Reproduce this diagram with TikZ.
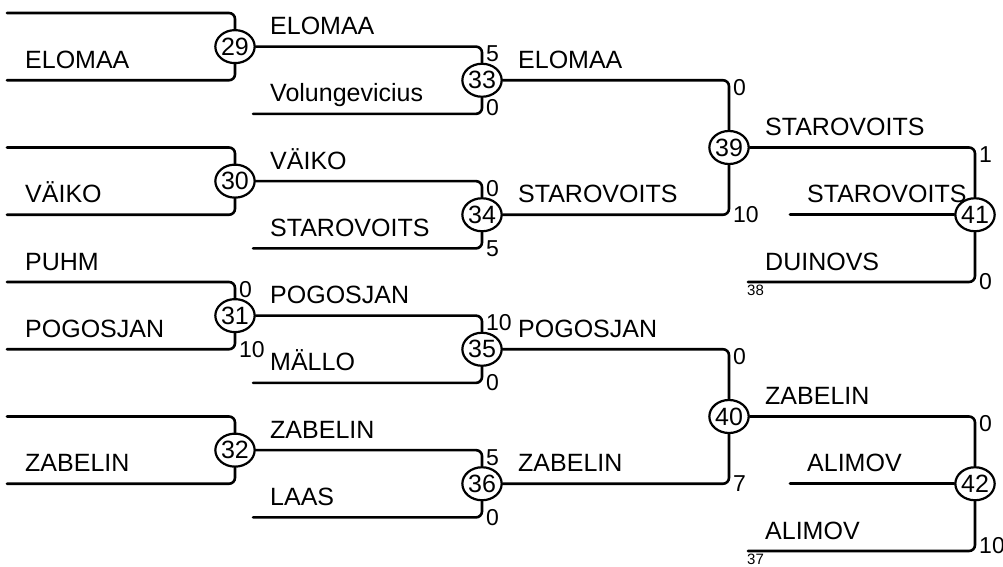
\documentclass[tikz,border=0pt]{standalone}
\usepackage{fontspec}
\setmainfont{Liberation Sans}
\usetikzlibrary{shapes.geometric}
\begin{document}
\begin{tikzpicture}[x=1pt,y=-1pt,
  conn/.style={line width=2.6pt,rounded corners=6pt,line cap=round},
  game/.style={ellipse,draw,line width=2.2pt,fill=white,inner sep=0pt,
    minimum width=37pt,minimum height=33pt,font=\fontsize{25}{30}\selectfont},
  pname/.style={anchor=base west,inner sep=0pt,font=\fontsize{25}{30}\selectfont},
  sctop/.style={anchor=north west,inner sep=0pt,font=\fontsize{23}{27}\selectfont},
  scbot/.style={anchor=west,inner sep=0pt,font=\fontsize{23}{27}\selectfont},
  smalllab/.style={anchor=north west,inner sep=0pt,font=\fontsize{15}{18}\selectfont}]
\useasboundingbox (0,0) rectangle (1003,567);
% rows: y_k = 13 + 33.625 k
% game nodes
\node[game] (c29) at (235,46.625) {29};
\node[game] (c30) at (235,181.125) {30};
\node[game] (c31) at (235,315.625) {31};
\node[game] (c32) at (235,450.125) {32};
\node[game] (c33) at (482,80.25) {33};
\node[game] (c34) at (482,214.75) {34};
\node[game] (c35) at (482,349.25) {35};
\node[game] (c36) at (482,483.75) {36};
\node[game] (c39) at (729,147.5) {39};
\node[game] (c40) at (729,416.5) {40};
\node[game] (c41) at (975,214.75) {41};
\node[game] (c42) at (975,483.75) {42};
% free ends
\coordinate (a29t) at (7,13);
\coordinate (a29b) at (7,80.25);
\coordinate (a30t) at (7,147.5);
\coordinate (a30b) at (7,214.75);
\coordinate (a31t) at (7,282);
\coordinate (a31b) at (7,349.25);
\coordinate (a32t) at (7,416.5);
\coordinate (a32b) at (7,483.75);
\coordinate (a33b) at (253,113.875);
\coordinate (a34b) at (253,248.375);
\coordinate (a35b) at (253,382.875);
\coordinate (a36b) at (253,517.375);
\coordinate (a41m) at (790,214.75);
\coordinate (a41b) at (748,282);
\coordinate (a42m) at (790,483.75);
\coordinate (a42b) at (748,551);
% connectors
\draw[conn] (a29t) -| (c29);
\draw[conn] (a29b) -| (c29);
\draw[conn] (a30t) -| (c30);
\draw[conn] (a30b) -| (c30);
\draw[conn] (a31t) -| (c31);
\draw[conn] (a31b) -| (c31);
\draw[conn] (a32t) -| (c32);
\draw[conn] (a32b) -| (c32);
\draw[conn] (c29) -| (c33);
\draw[conn] (a33b) -| (c33);
\draw[conn] (c30) -| (c34);
\draw[conn] (a34b) -| (c34);
\draw[conn] (c31) -| (c35);
\draw[conn] (a35b) -| (c35);
\draw[conn] (c32) -| (c36);
\draw[conn] (a36b) -| (c36);
\draw[conn] (c33) -| (c39);
\draw[conn] (c34) -| (c39);
\draw[conn] (c35) -| (c40);
\draw[conn] (c36) -| (c40);
\draw[conn] (c39) -| (c41);
\draw[conn] (a41m) -- (c41);
\draw[conn] (a41b) -| (c41);
\draw[conn] (c40) -| (c42);
\draw[conn] (a42m) -- (c42);
\draw[conn] (a42b) -| (c42);
% player names
\node[pname] (n1) at (25,68.25) {ELOMAA};
\node[pname] (n2) at (25,202.75) {VÄIKO};
\node[pname] (n3) at (25,270) {PUHM};
\node[pname] (n4) at (25,337.25) {POGOSJAN};
\node[pname] (n5) at (25,471.75) {ZABELIN};
\node[pname] (n6) at (270,34.625) {ELOMAA};
\node[pname] (n7) at (270,101.875) {Volungevicius};
\node[pname] (n8) at (270,169.125) {VÄIKO};
\node[pname] (n9) at (270,236.375) {STAROVOITS};
\node[pname] (n10) at (270,303.625) {POGOSJAN};
\node[pname] (n11) at (270,370.875) {MÄLLO};
\node[pname] (n12) at (270,438.125) {ZABELIN};
\node[pname] (n13) at (270,505.375) {LAAS};
\node[pname] (n14) at (518,68.25) {ELOMAA};
\node[pname] (n15) at (518,202.75) {STAROVOITS};
\node[pname] (n16) at (518,337.25) {POGOSJAN};
\node[pname] (n17) at (518,471.75) {ZABELIN};
\node[pname] (n18) at (765,135.5) {STAROVOITS};
\node[pname] (n19) at (807,202.75) {STAROVOITS};
\node[pname] (n20) at (765,270) {DUINOVS};
\node[pname] (n21) at (765,404.5) {ZABELIN};
\node[pname] (n22) at (807,471.75) {ALIMOV};
\node[pname] (n23) at (765,539) {ALIMOV};
% scores
\node[sctop] (s1) at (239,281) {0};
\node[scbot] (s2) at (239,349.25) {10};
\node[sctop] (s3) at (486,45.6) {5};
\node[scbot] (s4) at (486,108) {0};
\node[sctop] (s5) at (486,180.1) {0};
\node[scbot] (s6) at (486,248.375) {5};
\node[sctop] (s7) at (486,314.6) {10};
\node[scbot] (s8) at (486,382.875) {0};
\node[sctop] (s9) at (486,449.1) {5};
\node[scbot] (s10) at (486,517.375) {0};
\node[sctop] (s11) at (733,79.25) {0};
\node[scbot] (s12) at (733,214.75) {10};
\node[sctop] (s13) at (733,348.25) {0};
\node[scbot] (s14) at (733,483.75) {7};
\node[sctop] (s15) at (979,146.5) {1};
\node[scbot] (s16) at (979,282) {0};
\node[sctop] (s17) at (979,415.5) {0};
\node[scbot] (s18) at (979,546) {10};
% small labels
\node[smalllab] (t38) at (747,285) {38};
\node[smalllab] (t37) at (747,554) {37};
\end{tikzpicture}
\end{document}
